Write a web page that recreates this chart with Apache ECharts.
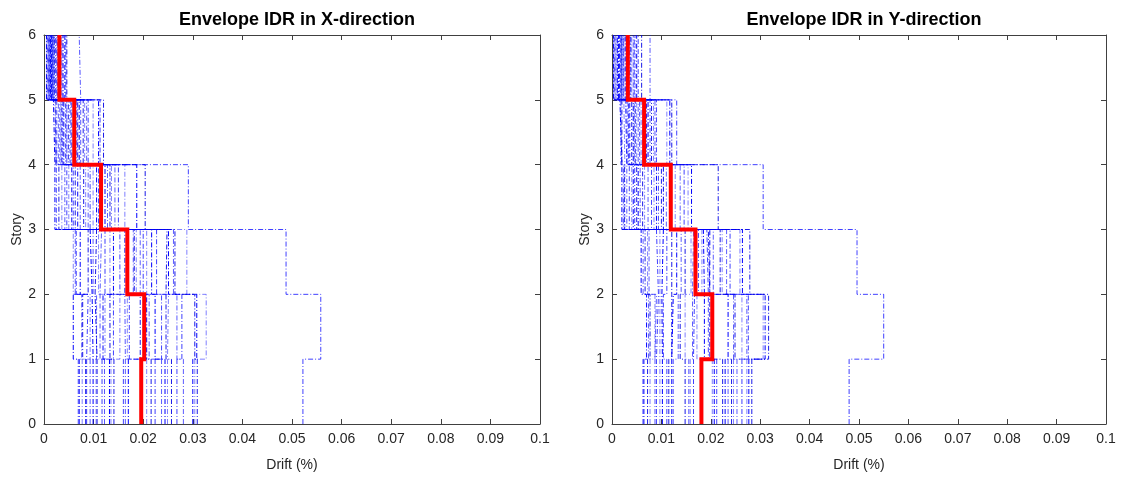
<!DOCTYPE html>
<html>
<head>
<meta charset="utf-8">
<script src="https://cdn.jsdelivr.net/npm/echarts@6/dist/echarts.min.js"></script>
<style>
html,body{margin:0;padding:0;background:#fff;}
#chart{width:1126px;height:477px;}
</style>
</head>
<body>
<div id="chart"></div>
<script>
// ---- data (drift per story, one entry per ground-motion record) ----
const storyLevels = [0, 1, 2, 3, 4, 5, 6];
const xTickLabels = ['0','0.01','0.02','0.03','0.04','0.05','0.06','0.07','0.08','0.09','0.1'];

// X-direction
const xStory1 = [0.0069,0.0071,0.0077,0.0084,0.0086,0.0093,0.0099,0.0105,0.0107,0.0117,0.0122,0.0132,0.0135,0.0141,0.0160,0.0164,0.0170,0.0207,0.0216,0.0224,0.0237,0.0244,0.0249,0.0257,0.0268,0.0281,0.0300,0.0304,0.0309,0.0522];
const xStory2 = [0.0076,0.0059,0.0093,0.0078,0.0089,0.0106,0.0097,0.0123,0.0103,0.0140,0.0113,0.0119,0.0153,0.0133,0.0172,0.0163,0.0207,0.0168,0.0194,0.0237,0.0212,0.0224,0.0251,0.0246,0.0278,0.0268,0.0308,0.0327,0.0304,0.0558];
const xStory3 = [0.0063,0.0073,0.0059,0.0089,0.0065,0.0099,0.0093,0.0110,0.0106,0.0123,0.0116,0.0140,0.0133,0.0163,0.0153,0.0180,0.0170,0.0186,0.0182,0.0200,0.0194,0.0217,0.0207,0.0248,0.0227,0.0261,0.0251,0.0288,0.0264,0.0488];
const xStory4 = [0.0025,0.0022,0.0036,0.0030,0.0046,0.0042,0.0056,0.0050,0.0063,0.0059,0.0073,0.0068,0.0084,0.0080,0.0093,0.0089,0.0106,0.0099,0.0116,0.0110,0.0128,0.0123,0.0136,0.0133,0.0150,0.0143,0.0187,0.0163,0.0204,0.0291];
const xStory5 = [0.0022,0.0019,0.0026,0.0024,0.0032,0.0029,0.0036,0.0034,0.0040,0.0038,0.0046,0.0044,0.0052,0.0049,0.0056,0.0054,0.0062,0.0059,0.0068,0.0066,0.0074,0.0071,0.0082,0.0079,0.0089,0.0086,0.0110,0.0099,0.0120,0.0113];
const xStory6 = [0.0006,0.0005,0.0009,0.0008,0.0011,0.0010,0.0013,0.0012,0.0015,0.0014,0.0017,0.0016,0.0019,0.0018,0.0021,0.0020,0.0024,0.0022,0.0028,0.0026,0.0071,0.0031,0.0034,0.0033,0.0038,0.0036,0.0042,0.0039,0.0046,0.0044];
const xMean = [0.0196, 0.0202, 0.0168, 0.0115, 0.0061, 0.0031];

// Y-direction
const yStory1 = [0.0065,0.0063,0.0077,0.0072,0.0090,0.0087,0.0102,0.0097,0.0115,0.0111,0.0124,0.0121,0.0155,0.0148,0.0165,0.0158,0.0207,0.0203,0.0224,0.0212,0.0235,0.0229,0.0246,0.0242,0.0263,0.0253,0.0277,0.0273,0.0283,0.0480];
const yStory2 = [0.0074,0.0070,0.0087,0.0077,0.0094,0.0090,0.0101,0.0097,0.0121,0.0104,0.0134,0.0124,0.0148,0.0138,0.0167,0.0163,0.0187,0.0172,0.0198,0.0195,0.0246,0.0235,0.0263,0.0249,0.0276,0.0273,0.0310,0.0306,0.0317,0.0550];
const yStory3 = [0.0063,0.0059,0.0072,0.0067,0.0090,0.0075,0.0104,0.0097,0.0121,0.0111,0.0140,0.0131,0.0160,0.0148,0.0175,0.0165,0.0185,0.0182,0.0195,0.0192,0.0205,0.0198,0.0223,0.0219,0.0239,0.0232,0.0264,0.0259,0.0279,0.0496];
const yStory4 = [0.0023,0.0020,0.0026,0.0025,0.0035,0.0030,0.0043,0.0040,0.0050,0.0046,0.0057,0.0053,0.0066,0.0062,0.0080,0.0073,0.0090,0.0085,0.0100,0.0094,0.0110,0.0104,0.0128,0.0120,0.0146,0.0138,0.0161,0.0154,0.0215,0.0306];
const yStory5 = [0.0018,0.0016,0.0024,0.0020,0.0030,0.0027,0.0034,0.0032,0.0040,0.0036,0.0045,0.0043,0.0050,0.0047,0.0056,0.0053,0.0063,0.0059,0.0070,0.0066,0.0077,0.0073,0.0084,0.0080,0.0090,0.0087,0.0117,0.0111,0.0121,0.0131];
const yStory6 = [0.0004,0.0003,0.0008,0.0006,0.0011,0.0010,0.0013,0.0012,0.0016,0.0015,0.0019,0.0018,0.0021,0.0020,0.0024,0.0023,0.0028,0.0026,0.0033,0.0030,0.0077,0.0036,0.0040,0.0038,0.0045,0.0043,0.0050,0.0047,0.0060,0.0053];
const yMean = [0.0181, 0.0203, 0.0169, 0.0119, 0.0065, 0.0032];

// ---- build ----
const recordColors = ['rgba(0,0,255,0.65)','rgba(0,0,255,1)','rgba(0,0,255,0.5)','rgba(0,0,230,0.9)','rgba(0,0,255,0.75)'];
const dashDot = [5, 2, 1, 2];

function stepPoints(vals) {
  const pts = [];
  for (let i = 0; i < vals.length; i++) {
    pts.push([vals[i], storyLevels[i]]);
    pts.push([vals[i], storyLevels[i + 1]]);
  }
  return pts;
}

function panelSeries(stories, mean, gi) {
  const out = [];
  const n = stories[0].length;
  for (let j = 0; j < n; j++) {
    const vals = stories.map(s => s[j]);
    out.push({
      type: 'line', xAxisIndex: gi * 2, yAxisIndex: gi * 2,
      data: stepPoints(vals), symbol: 'none', silent: true, animation: false,
      lineStyle: { width: 1, color: recordColors[j % recordColors.length], type: dashDot },
      z: 2
    });
  }
  out.push({
    type: 'line', xAxisIndex: gi * 2, yAxisIndex: gi * 2,
    data: stepPoints(mean), symbol: 'none', silent: true, animation: false,
    lineStyle: { width: 4, color: '#ff0000', join: 'miter' }, z: 5
  });
  return out;
}

const font = 'Liberation Sans, Arial, Helvetica, sans-serif';
const axisCol = '#404040';
const txtCol = '#262626';

function xAxes(gi) {
  return [
    { gridIndex: gi, type: 'value', min: 0, max: 0.1, interval: 0.01, position: 'bottom',
      name: 'Drift (%)', nameLocation: 'middle', nameGap: 34,
      nameTextStyle: { fontFamily: font, fontSize: 14, color: txtCol },
      axisLine: { show: true, onZero: false, lineStyle: { color: axisCol, width: 1 } },
      axisTick: { show: true, inside: true, length: 5, lineStyle: { color: axisCol } },
      axisLabel: { fontFamily: font, fontSize: 14, color: txtCol, margin: 8,
        formatter: (v) => xTickLabels[Math.round(v * 100)] },
      splitLine: { show: false } },
    { gridIndex: gi, type: 'value', min: 0, max: 0.1, interval: 0.01, position: 'top',
      axisLine: { show: true, onZero: false, lineStyle: { color: axisCol, width: 1 } },
      axisTick: { show: true, inside: true, length: 5, lineStyle: { color: axisCol } },
      axisLabel: { show: false }, splitLine: { show: false } }
  ];
}
function yAxes(gi) {
  return [
    { gridIndex: gi, type: 'value', min: 0, max: 6, interval: 1, position: 'left',
      name: 'Story', nameLocation: 'middle', nameGap: 19, nameRotate: 90,
      nameTextStyle: { fontFamily: font, fontSize: 14, color: txtCol },
      axisLine: { show: true, onZero: false, lineStyle: { color: axisCol, width: 1 } },
      axisTick: { show: true, inside: true, length: 5, lineStyle: { color: axisCol } },
      axisLabel: { fontFamily: font, fontSize: 14, color: txtCol, margin: 8 },
      splitLine: { show: false } },
    { gridIndex: gi, type: 'value', min: 0, max: 6, interval: 1, position: 'right',
      axisLine: { show: true, onZero: false, lineStyle: { color: axisCol, width: 1 } },
      axisTick: { show: true, inside: true, length: 5, lineStyle: { color: axisCol } },
      axisLabel: { show: false }, splitLine: { show: false } }
  ];
}

const chart = echarts.init(document.getElementById('chart'), null, { renderer: 'canvas' });
chart.setOption({
  backgroundColor: '#ffffff',
  animation: false,
  title: [
    { text: 'Envelope IDR in X-direction', left: 292, top: 6, textAlign: 'center',
      textStyle: { fontFamily: font, fontSize: 18, fontWeight: 'bold', color: '#000' } },
    { text: 'Envelope IDR in Y-direction', left: 859, top: 6, textAlign: 'center',
      textStyle: { fontFamily: font, fontSize: 18, fontWeight: 'bold', color: '#000' } }
  ],
  grid: [
    { left: 44, right: 586, top: 35, bottom: 53, containLabel: false },
    { left: 612, right: 20, top: 35, bottom: 53, containLabel: false }
  ],
  xAxis: xAxes(0).concat(xAxes(1)),
  yAxis: yAxes(0).concat(yAxes(1)),
  series: panelSeries([xStory1, xStory2, xStory3, xStory4, xStory5, xStory6], xMean, 0)
    .concat(panelSeries([yStory1, yStory2, yStory3, yStory4, yStory5, yStory6], yMean, 1))
});
</script>
</body>
</html>
